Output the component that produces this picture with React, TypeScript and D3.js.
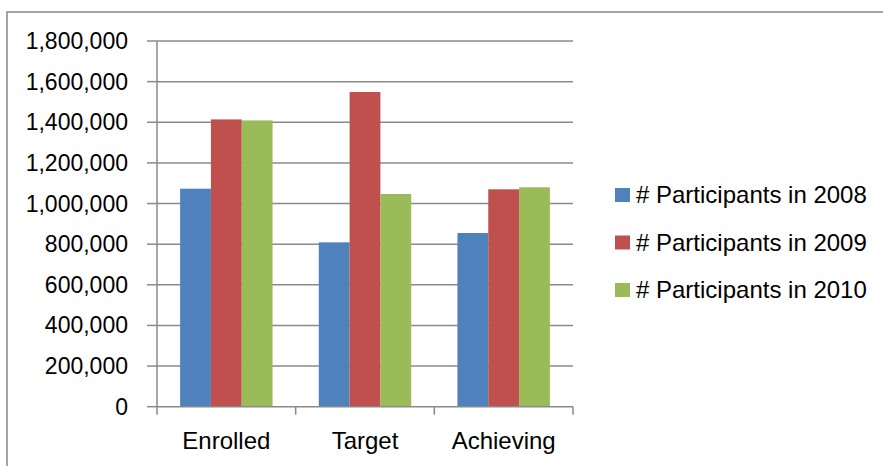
// App.tsx
import React, { useRef, useEffect } from 'react';
import { select, scaleBand, scaleLinear, format } from 'd3';

const categories = ["Enrolled", "Target", "Achieving"];
const seriesNames = ["# Participants in 2008", "# Participants in 2009", "# Participants in 2010"];
const participants2008 = [1073000, 809000, 855000];
const participants2009 = [1414000, 1549000, 1070000];
const participants2010 = [1409000, 1047000, 1080000];
const yTicks = [0, 200000, 400000, 600000, 800000, 1000000, 1200000, 1400000, 1600000, 1800000];
const colors = ["#4F81BD", "#C0504D", "#9BBB59"];

const width = 883;
const height = 466;

const App = () => {
    const ref = useRef(null);

    useEffect(() => {
        const svg = select(ref.current);
        svg.selectAll("*").remove();

        const font = "'Liberation Sans', Arial, sans-serif";
        const values = [participants2008, participants2009, participants2010];

        // chart border (runs off the right and bottom of the page)
        svg.append("rect")
            .attr("x", 7)
            .attr("y", 12)
            .attr("width", 900)
            .attr("height", 480)
            .attr("fill", "white")
            .attr("stroke", "#878787")
            .attr("stroke-width", 1.5);

        const x = scaleBand()
            .domain(categories)
            .range([157, 573])
            .paddingInner(1 / 3)
            .paddingOuter(1 / 6);

        const xSeries = scaleBand()
            .domain(seriesNames)
            .range([0, x.bandwidth()]);

        const y = scaleLinear()
            .domain([0, 1800000])
            .range([406.7, 41]);

        // gridlines
        svg.selectAll(".grid")
            .data(yTicks.filter(d => d > 0))
            .enter()
            .append("line")
            .attr("x1", 157)
            .attr("x2", 573)
            .attr("y1", d => y(d))
            .attr("y2", d => y(d))
            .attr("stroke", "#8a8a8a")
            .attr("stroke-width", 1.5);

        // bars
        seriesNames.forEach((s, si) => {
            svg.selectAll(".bar" + si)
                .data(categories)
                .enter()
                .append("rect")
                .attr("x", d => x(d) + xSeries(s))
                .attr("y", (d, i) => y(values[si][i]))
                .attr("width", xSeries.bandwidth())
                .attr("height", (d, i) => y(0) - y(values[si][i]))
                .attr("fill", colors[si]);
        });

        // y axis
        svg.append("line")
            .attr("x1", 157).attr("x2", 157)
            .attr("y1", y(1800000)).attr("y2", y(0))
            .attr("stroke", "#8a8a8a")
            .attr("stroke-width", 1.5);

        svg.selectAll(".ytick")
            .data(yTicks)
            .enter()
            .append("line")
            .attr("x1", 147)
            .attr("x2", 157)
            .attr("y1", d => y(d))
            .attr("y2", d => y(d))
            .attr("stroke", "#8a8a8a")
            .attr("stroke-width", 1.5);

        svg.selectAll(".ylabel")
            .data(yTicks)
            .enter()
            .append("text")
            .attr("x", 128)
            .attr("y", d => y(d))
            .attr("dy", "0.35em")
            .attr("text-anchor", "end")
            .attr("font-family", font)
            .attr("font-size", 23)
            .attr("fill", "#000")
            .text(d => format(",")(d));

        // x axis
        svg.append("line")
            .attr("x1", 157).attr("x2", 573)
            .attr("y1", y(0)).attr("y2", y(0))
            .attr("stroke", "#8a8a8a")
            .attr("stroke-width", 1.5);

        // tick marks sit between the category bands
        const xTickPos = categories.map((c, i) => 157 + i * x.step());
        xTickPos.push(573);

        svg.selectAll(".xtick")
            .data(xTickPos)
            .enter()
            .append("line")
            .attr("x1", d => d)
            .attr("x2", d => d)
            .attr("y1", y(0))
            .attr("y2", y(0) + 8)
            .attr("stroke", "#8a8a8a")
            .attr("stroke-width", 1.5);

        svg.selectAll(".xlabel")
            .data(categories)
            .enter()
            .append("text")
            .attr("x", d => x(d) + x.bandwidth() / 2)
            .attr("y", 449)
            .attr("text-anchor", "middle")
            .attr("font-family", font)
            .attr("font-size", 24)
            .attr("fill", "#000")
            .text(d => d);

        // legend
        const legend = svg.selectAll(".legend")
            .data(seriesNames)
            .enter()
            .append("g")
            .attr("transform", (d, i) => `translate(615, ${195 + i * 47.5})`);

        legend.append("rect")
            .attr("x", 0)
            .attr("y", -7)
            .attr("width", 15)
            .attr("height", 14)
            .attr("fill", (d, i) => colors[i]);

        legend.append("text")
            .attr("x", 21)
            .attr("y", 0)
            .attr("dy", "0.35em")
            .attr("font-family", font)
            .attr("font-size", 24)
            .attr("fill", "#000")
            .text(d => d);

    }, []);

    return (
        <svg ref={ref} width={width} height={height}
            style={{ position: "absolute", left: 0, top: 0, background: "white" }}></svg>
    )
}

export default App;
